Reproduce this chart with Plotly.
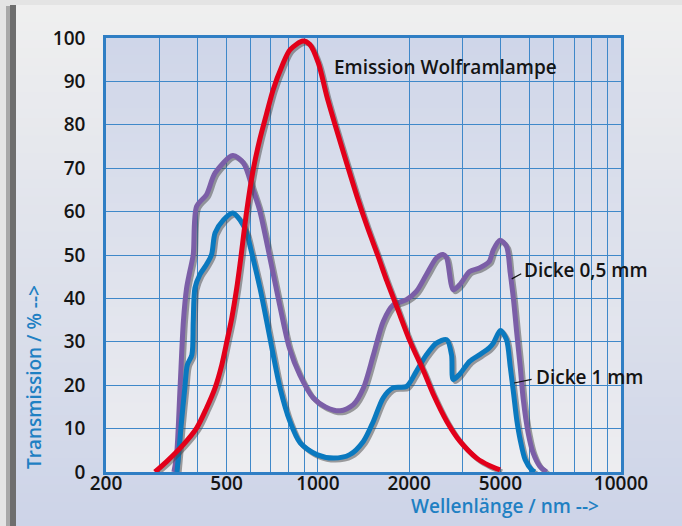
import math
import plotly.graph_objects as go

# Wellenlänge in nm, Transmission / Emission in %
lamp_nm = [290, 317, 360, 398, 429, 458, 482, 501, 520, 540, 555, 582, 612, 643, 678, 712,
           761, 810, 894, 941, 1004, 1071, 1152, 1244, 1346, 1455, 1582, 1691, 1827, 2014,
           2234, 2407, 2660, 2940, 3340, 3675, 3990]
lamp_pct = [0, 2.4, 6.3, 10.1, 14.7, 19.4, 24.7, 30.1, 35.5, 42.4, 48.5, 60, 69.7, 76.6, 82.7, 88.1,
            93.5, 97.3, 99.3, 98.5, 94.2, 86.5, 78.9, 71.2, 63.5, 56.5, 49.6, 43.9, 37.8, 30.1,
            23.2, 17.8, 11.7, 7.1, 3.2, 1.5, 0.5]

thin_nm = [335, 342, 351, 360, 369, 378, 388, 398, 429, 458, 524, 568, 611, 642, 684, 748,
           805, 871, 964, 1060, 1185, 1309, 1414, 1525, 1643, 1773, 1961, 2113, 2281, 2461,
           2589, 2660, 2795, 2940, 3167, 3411, 3675, 3791, 3990, 4190, 4310, 4420, 4530, 4650,
           4760, 4940, 5130, 5400, 5680]
thin_pct = [0, 4, 19.4, 34.7, 42.4, 46.2, 50.1, 61.2, 63.9, 68.9, 72.9, 71.2, 65, 60.4, 51.6, 38.5,
            28.6, 22.4, 17.1, 15, 14.1, 15.5, 19.4, 27, 34.7, 38.5, 39.7, 41.6, 45.5, 49.3,
            50.1, 49.3, 42, 43.2, 46.2, 47, 48.5, 51.2, 53.4, 52, 45.9, 39.7, 32, 24.3,
            16.7, 9, 4.4, 1.3, 0]

thick_nm = [343, 355, 364, 371, 384, 388, 393, 408, 429, 446, 458, 488, 524, 553, 582, 600,
            644, 678, 712, 750, 808, 874, 992, 1126, 1274, 1414, 1525, 1643, 1773, 1961, 2113,
            2281, 2461, 2660, 2760, 2795, 2940, 3167, 3411, 3675, 3791, 4000, 4190, 4310, 4420,
            4530, 4650, 4830, 5070, 5200]
thick_pct = [0, 11.7, 19.4, 24.7, 27, 34.7, 42.4, 45.5, 47.8, 50.1, 55.1, 58.1, 59.7, 58.1, 55.1, 51.5,
             42.4, 34.7, 27, 19.4, 11.7, 6.7, 4, 3.2, 4, 7.1, 11.7, 17.1, 19.4, 19.7, 23.2,
             27, 29.7, 30.5, 27, 21.3, 22.6, 25.5, 27, 28.6, 29.7, 32.6, 30.5, 24.3, 18.2,
             12, 7.4, 2.8, 0.5, 0]

grid_nm = [200, 300, 400, 500, 600, 700, 800, 900, 1000, 2000, 3000, 4000,
           5000, 6000, 7000, 8000, 9000, 10000]
grid_text = ["200", "", "", "500", "", "", "", "", "1000", "2000", "", "5000",
             "", "", "", "", "", "10000"]

FONT = "Open Sans"
RED, PURPLE, BLUE = "#e2001a", "#7b5ea7", "#0a79bf"
TITLE_BLUE = "#1f80c3"

# plot area in pixels: left 106, right 621, top 38, bottom 472
L, R, T, B, W, H = 106, 61, 38, 54, 682, 526
PW, PH = W - L - R, H - T - B


def px_x(p):
    return (p - L) / PW


def px_y(p):
    return (H - B - p) / PH


def mix(c1, c2, t):
    a = [int(c1[i:i + 2], 16) for i in (1, 3, 5)]
    b = [int(c2[i:i + 2], 16) for i in (1, 3, 5)]
    return "rgb(%d,%d,%d)" % tuple(round(a[k] + (b[k] - a[k]) * t) for k in range(3))


def bands(x0, x1, y0, y1, top, bottom, n):
    out = []
    for i in range(n):
        ya = y0 + (y1 - y0) * i / n
        yb = y0 + (y1 - y0) * (i + 1.15) / n
        out.append(dict(type="rect", xref="paper", yref="paper", layer="below",
                        x0=px_x(x0), x1=px_x(x1), y0=px_y(min(yb, y1)), y1=px_y(ya),
                        fillcolor=mix(top, bottom, i / (n - 1)), line_width=0))
    return out


shapes = []
# frame shadow on the left edge
shapes.append(dict(type="rect", xref="paper", yref="paper", layer="below",
                   x0=px_x(6), x1=px_x(11), y0=px_y(H + 2), y1=px_y(6),
                   fillcolor="#a8a8a8", line_width=0))
shapes.append(dict(type="rect", xref="paper", yref="paper", layer="below",
                   x0=px_x(10), x1=px_x(16), y0=px_y(H + 2), y1=px_y(5),
                   fillcolor="#6e6e6e", line_width=0))
# panel and plot-area gradients
shapes += bands(16, W + 2, 5, H + 2, "#efefef", "#cdd4e8", 60)
shapes += bands(L, L + PW, T, T + PH, "#cfd6e9", "#ededf0", 50)


def shadow(xs, ys):
    return [x * 1.0153 for x in xs], [y - 0.46 for y in ys]


fig = go.Figure()
series = [(thin_nm, thin_pct, PURPLE, "Dicke 0,5 mm"),
          (thick_nm, thick_pct, BLUE, "Dicke 1 mm"),
          (lamp_nm, lamp_pct, RED, "Emission Wolframlampe")]
for xs, ys, col, name in series:
    sx, sy = shadow(xs, ys)
    fig.add_trace(go.Scatter(x=sx, y=sy, mode="lines", hoverinfo="skip",
                             line=dict(color="rgba(70,70,70,0.5)", width=5,
                                       shape="spline", smoothing=0.8)))
    fig.add_trace(go.Scatter(x=xs, y=ys, mode="lines", name=name,
                             line=dict(color=col, width=5, shape="spline", smoothing=0.8)))

tick_font = dict(family=FONT, size=19, color="#141414", weight=600)
label_font = dict(family=FONT, size=19, color="#141414", weight=600)
title_font = dict(family=FONT, size=19, color=TITLE_BLUE, weight=600)

lg = math.log10  # annotation x on a log axis is given in log10 units
annotations = [
    dict(text="Emission Wolframlampe", x=lg(1110), y=93.4, xref="x", yref="y",
         xanchor="left", yanchor="middle", showarrow=False, font=label_font),
    dict(text="Dicke 0,5 mm", x=lg(4710), y=46.5, xref="x", yref="y",
         xanchor="left", yanchor="middle", showarrow=False, font=label_font),
    dict(text="Dicke 1 mm", x=lg(5170), y=22, xref="x", yref="y",
         xanchor="left", yanchor="middle", showarrow=False, font=label_font),
    # leader lines
    dict(text="", x=lg(4360), y=44.5, xref="x", yref="y", showarrow=True, arrowhead=0,
         arrowwidth=1.2, arrowcolor="#111", ax=11, ay=-6, standoff=0),
    dict(text="", x=lg(4440), y=20.5, xref="x", yref="y", showarrow=True, arrowhead=0,
         arrowwidth=1.2, arrowcolor="#111", ax=19, ay=-4, standoff=0),
    # axis titles
    dict(text="Wellenlänge / nm -->", x=px_x(601), y=px_y(506), xref="paper", yref="paper",
         xanchor="right", yanchor="middle", showarrow=False, font=title_font),
    dict(text="Transmission / % -->", x=px_x(34), y=px_y(471), xref="paper", yref="paper",
         xanchor="center", yanchor="bottom", textangle=-90, showarrow=False, font=title_font),
]

fig.update_layout(
    width=W, height=H, margin=dict(l=L, r=R, t=T, b=B, pad=0),
    paper_bgcolor="#e4e4e4", plot_bgcolor="#dde1ec",
    showlegend=False, shapes=shapes, annotations=annotations,
    xaxis=dict(type="log", range=[2.30103, 4], tickvals=grid_nm, ticktext=grid_text,
               showgrid=True, gridcolor="#3f88c9", gridwidth=1.2,
               showline=True, linecolor="#2f7ec4", linewidth=2.5, mirror=True,
               ticks="", tickfont=tick_font, ticklabelstandoff=-8, zeroline=False),
    yaxis=dict(range=[0, 100], dtick=10, showgrid=True, gridcolor="#3f88c9", gridwidth=1.2,
               showline=True, linecolor="#2f7ec4", linewidth=2.5, mirror=True,
               ticks="", tickfont=tick_font, ticklabelstandoff=14, zeroline=False),
)

fig.write_html("out.html")
